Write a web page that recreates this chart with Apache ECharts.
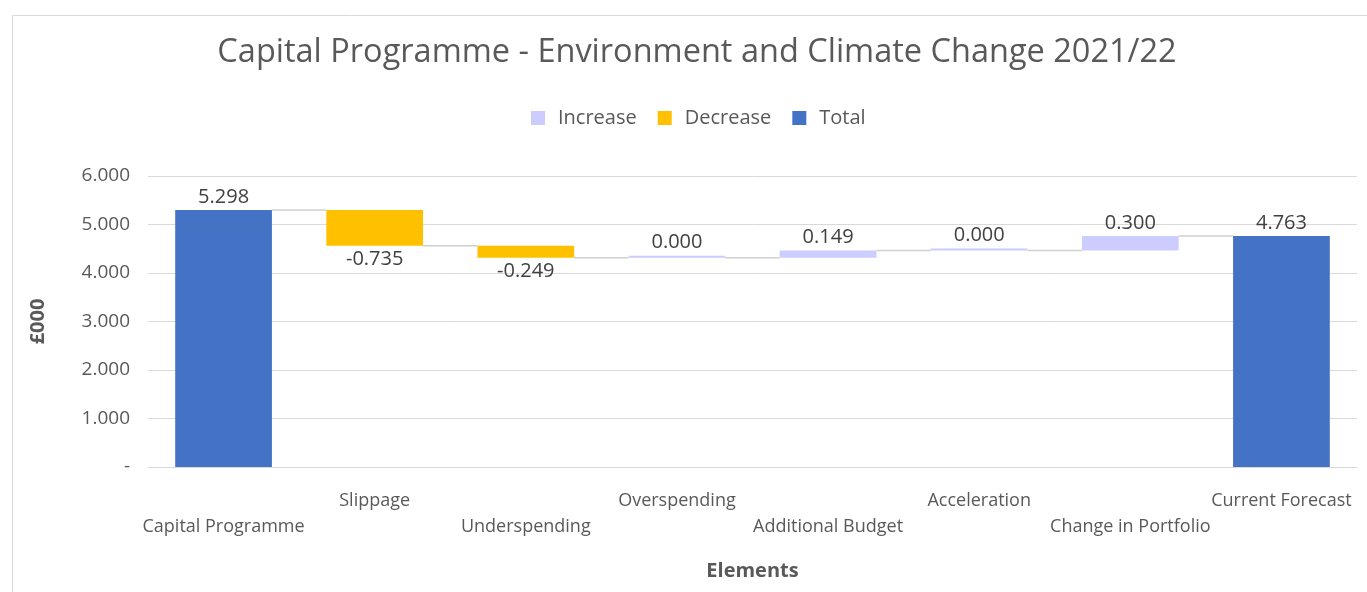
<!DOCTYPE html>
<html>
<head>
<meta charset="utf-8">
<script src="https://cdn.jsdelivr.net/npm/echarts@6/dist/echarts.min.js"></script>
<style>html,body{margin:0;padding:0;background:#fff;}#chart{width:1367px;height:592px;}</style>
</head>
<body>
<div id="chart"></div>
<script>
const categories = ['Capital Programme','Slippage','Underspending','Overspending','Additional Budget','Acceleration','Change in Portfolio','Current Forecast'];
const changes = [5.298, -0.735, -0.249, 0.000, 0.149, 0.000, 0.300, 4.763];
const isTotal = [true, false, false, false, false, false, false, true];
const yTicks = [0, 1, 2, 3, 4, 5, 6];

const FONT = 'Open Sans';
const base = [], inc = [], dec = [], tot = [], connectors = [];
let running = 0;
for (let i = 0; i < categories.length; i++) {
  const v = changes[i];
  if (isTotal[i]) {
    base.push(0); tot.push(v); inc.push('-'); dec.push('-');
    running = v;
  } else if (v >= 0) {
    base.push(running); inc.push(v); dec.push('-'); tot.push('-');
    running += v;
  } else {
    base.push(running + v); dec.push(-v); inc.push('-'); tot.push('-');
    running += v;
  }
  if (i < categories.length - 1) connectors.push([i, running]);
}
const BAR_RATIO = 0.64;
const fmt = p => changes[p.dataIndex].toFixed(3);
const labelStyle = {fontFamily: FONT, fontSize: 20, color: '#404040'};

const chart = echarts.init(document.getElementById('chart'));
chart.setOption({
  animation: false,
  backgroundColor: '#fff',
  graphic: [{type: 'rect', left: 10, top: 13, shape: {width: 1400, height: 620}, style: {fill: 'none', stroke: '#d9d9d9', lineWidth: 1}, z: -10}],
  title: {text: 'Capital Programme - Environment and Climate Change 2021/22', left: 692, textAlign: 'center', top: 31,
    textStyle: {fontFamily: FONT, fontWeight: 'normal', fontSize: 32.5, color: '#595959'}},
  legend: {data: ['Increase', 'Decrease', 'Total'], top: 103, left: 526, itemWidth: 14, itemHeight: 14, itemGap: 21,
    icon: 'rect', textStyle: {fontFamily: FONT, fontSize: 20, color: '#595959', padding: [0, 0, 0, 8]}},
  grid: {left: 148, right: 10, top: 176, bottom: 125},
  xAxis: {type: 'category', data: categories, name: 'Elements', nameLocation: 'middle', nameGap: 94,
    nameTextStyle: {fontFamily: FONT, fontSize: 20, fontWeight: 'bold', color: '#595959'},
    axisTick: {show: false}, axisLine: {lineStyle: {color: '#d9d9d9'}},
    axisLabel: {interval: 0, margin: 21, lineHeight: 26, fontFamily: FONT, fontSize: 18, color: '#595959',
      formatter: (v, i) => (i % 2 === 0 ? '\n' + v : v)}},
  yAxis: {type: 'value', min: 0, max: 6, interval: 1, name: '£000', nameLocation: 'middle', nameGap: 100, nameRotate: 90,
    nameTextStyle: {fontFamily: FONT, fontSize: 20, fontWeight: 'bold', color: '#595959'},
    splitLine: {lineStyle: {color: '#d9d9d9'}}, axisLine: {show: false}, axisTick: {show: false},
    axisLabel: {margin: 18, fontFamily: FONT, fontSize: 19, color: '#595959', formatter: v => (v === 0 ? '-' : v.toFixed(3))}},
  series: [
    {name: 'Base', type: 'bar', stack: 'w', data: base, barWidth: (BAR_RATIO * 100) + '%', itemStyle: {color: 'transparent'}, silent: true},
    {name: 'Increase', type: 'bar', stack: 'w', data: inc, barMinHeight: 2, itemStyle: {color: '#CCCCFF'},
      label: Object.assign({show: true, position: 'top', distance: 3, formatter: fmt}, labelStyle)},
    {name: 'Decrease', type: 'bar', stack: 'w', data: dec, itemStyle: {color: '#FFC000'},
      label: Object.assign({show: true, position: 'bottom', distance: 4, formatter: fmt}, labelStyle)},
    {name: 'Total', type: 'bar', stack: 'w', data: tot, itemStyle: {color: '#4472C4'},
      label: Object.assign({show: true, position: 'top', distance: 3, formatter: fmt}, labelStyle)},
    {name: 'Connector', type: 'custom', data: connectors, silent: true, z: 1,
      renderItem: (params, api) => {
        const i = api.value(0), y = api.value(1);
        const p1 = api.coord([i, y]), p2 = api.coord([i + 1, y]);
        const half = api.size([1, 0])[0] * BAR_RATIO / 2;
        return {type: 'line', shape: {x1: p1[0] + half, y1: p1[1], x2: p2[0] - half, y2: p2[1]},
          style: {stroke: '#d0d0d0', lineWidth: 1.5}};
      }}
  ]
});
</script>
</body>
</html>
